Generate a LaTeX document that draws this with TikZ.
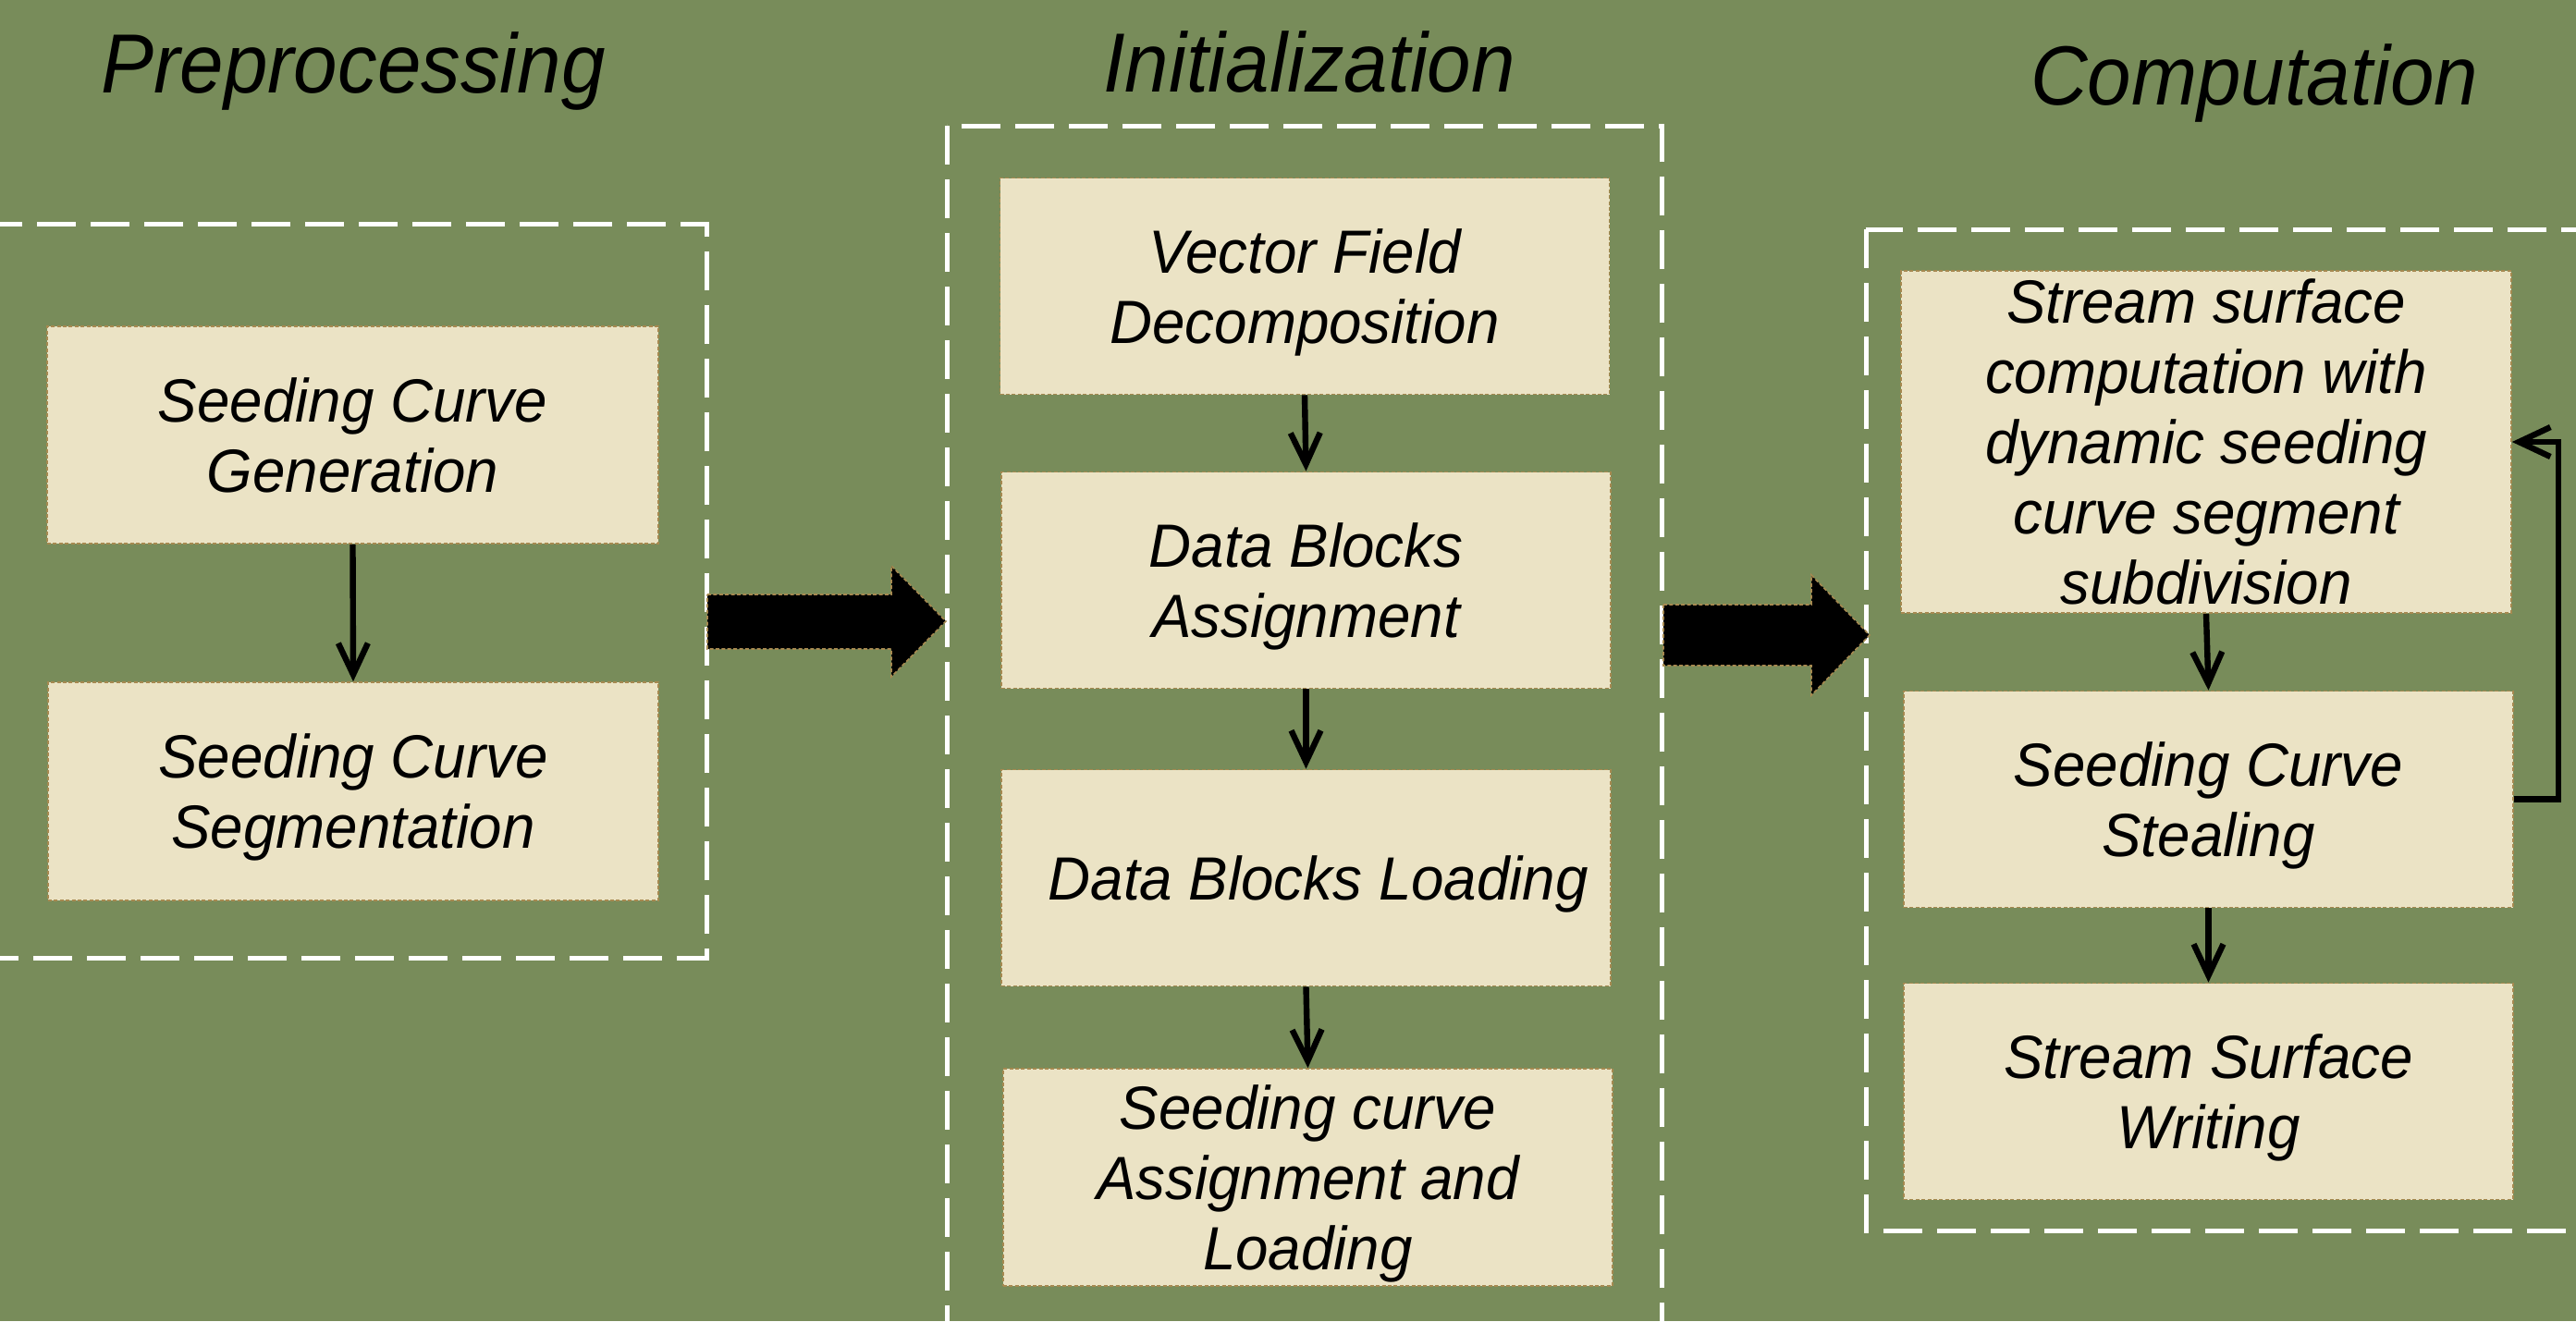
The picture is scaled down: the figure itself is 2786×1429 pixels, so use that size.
\documentclass[tikz,border=0pt]{standalone}
\usepackage{fontspec}
\setmainfont{Liberation Sans}
\newfontfamily\boxfont[FakeStretch=0.965]{Liberation Sans}
\newfontfamily\headfont[FakeStretch=0.94]{Liberation Sans}
\usetikzlibrary{arrows.meta}
\definecolor{bg}{RGB}{120,140,90}
\definecolor{boxfill}{RGB}{235,227,197}
\definecolor{boxline}{RGB}{166,137,80}
\tikzset{
  stepbox/.style={draw=boxline, fill=boxfill, line width=0.4pt, dash pattern=on 1pt off 0.6pt,
    inner sep=0pt, align=center, text depth=0pt, font=\boxfont\fontsize{16.5}{19}\selectfont\itshape,
    minimum width=164.75pt, minimum height=58.5pt},
  grouprect/.style={draw=white, line width=1.25pt, dash pattern=on 10.5pt off 4pt},
  titletext/.style={font=\headfont\fontsize{22.7}{26}\selectfont\itshape, inner sep=0pt, anchor=base},
  flow/.style={line width=1.6pt, -{Straight Barb[length=8.5pt,width=8pt,line width=1.6pt]}},
  bigarrow/.style={fill=black, draw=boxline, line width=0.4pt, dash pattern=on 1pt off 0.6pt}
}
\begin{document}
\begin{tikzpicture}[x=0.25pt, y=-0.25pt]
\useasboundingbox (0,0) rectangle (2786,1429);
\clip (0,0) rectangle (2786,1429);
\fill[bg] (0,0) rectangle (2786,1429);

% group frames
\draw[grouprect] (-40,242) rectangle (764,1036);
\draw[grouprect] (1024,136) rectangle (1797,1480);
\draw[grouprect] (2018,248) rectangle (2840,1331);

% titles
\node[titletext] (tpre) at (382,100) {Preprocessing};
\node[titletext] (tini) at (1416,99) {Initialization};
\node[titletext] (tcom) at (2438,113) {Computation};

% preprocessing
\node[stepbox, minimum width=165.25pt, minimum height=58.75pt] (gen) at (381.5,470.5) {Seeding Curve\\Generation};
\node[stepbox, minimum width=165pt, minimum height=59pt] (seg) at (382,856) {Seeding Curve\\Segmentation};

% initialization
\node[stepbox] (vfd) at (1411,309.5) {Vector Field\\Decomposition};
\node[stepbox] (dba) at (1412.5,627.5) {Data Blocks\\Assignment};
\node[stepbox] (dbl) at (1412.5,949.5) {\hspace{6.6pt}Data Blocks Loading};
\node[stepbox, minimum height=58.75pt] (sca) at (1414.5,1273.5) {Seeding curve\\Assignment and\\Loading};

% computation
\node[stepbox, minimum width=165pt, minimum height=92.5pt] (ssc) at (2386,478) {Stream surface\\computation with\\dynamic seeding\\curve segment\\subdivision};
\node[stepbox] (scs) at (2388.5,864.5) {Seeding Curve\\Stealing};
\node[stepbox] (ssw) at (2388.5,1180.5) {Stream Surface\\Writing};

% flow arrows
\draw[flow] (gen.south) -- (seg.north);
\draw[flow] (vfd.south) -- (dba.north);
\draw[flow] (dba.south) -- (dbl.north);
\draw[flow] (dbl.south) -- (sca.north);
\draw[flow] (ssc.south) -- (scs.north);
\draw[flow] (scs.south) -- (ssw.north);
\coordinate (fb) at (2767,864.5);
\draw[flow] (scs.east) -- (fb) |- (ssc.east);

% big block arrows between stages
\filldraw[bigarrow] (765,643) -- (964,643) -- (964,612) -- (1023,672) -- (964,732) -- (964,702) -- (765,702) -- cycle;
\filldraw[bigarrow] (1799,654) -- (1959,654) -- (1959,622) -- (2022,687) -- (1959,752) -- (1959,720) -- (1799,720) -- cycle;
\end{tikzpicture}
\end{document}
